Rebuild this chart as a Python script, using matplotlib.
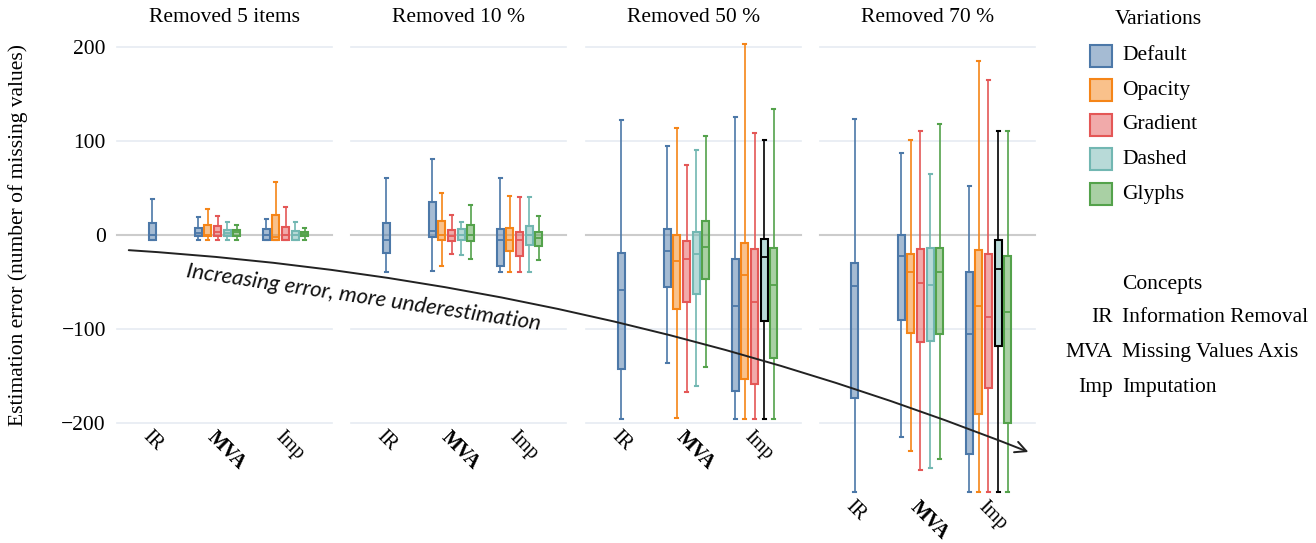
import matplotlib
matplotlib.use('Agg')
import matplotlib.pyplot as plt
from matplotlib.patches import Rectangle, FancyArrowPatch
from matplotlib.colors import to_rgba
import matplotlib.transforms as mtransforms

# categories
panels = ["Removed 5 items", "Removed 10 %", "Removed 50 %", "Removed 70 %"]
concepts = ["IR", "MVA", "Imp"]
concept_names = ["Information Removal", "Missing Values Axis", "Imputation"]
variations = ["Default", "Opacity", "Gradient", "Dashed", "Glyphs"]
colors = ["#4c78a8", "#f58518", "#e45756", "#72b7b2", "#54a24b"]

# box stats per variation: (whislo, q1, med, q3, whishi)
p1_ir = [(-5, -5, 0, 13, 38)]
p1_mva = [(-5, -1.5, 2.5, 7, 19), (-5, -1.5, 0, 10.6, 28), (-5, -1.5, 3, 9.6, 20),
          (-5, -1.5, 2, 5, 14), (-5, -1.5, 3, 5, 11)]
p1_imp = [(-5, -5, 0, 6, 17), (-5, -5, -2.5, 21, 56), (-5, -5, 0, 9, 30),
          (-5, -5, 0, 4, 14), (-5, -1.5, 1, 3, 7)]

p2_ir = [(-39, -19.5, -5, 13, 61)]
p2_mva = [(-38, -2.5, 4.6, 35.5, 81), (-33, -5, 0, 15, 45), (-20, -6, -1, 5, 21),
          (-21, -5, 0, 6, 14), (-26, -6, 0, 10.6, 32)]
p2_imp = [(-39, -33, -5, 6, 61), (-39, -16.7, -5, 7, 42), (-39, -22, -5, 3, 40),
          (-39, -10.6, 0, 9.6, 40), (-27, -11.7, -3.5, 3, 20)]

p3_ir = [(-196, -142.5, -58.5, -19.5, 122)]
p3_mva = [(-136, -55, -17, 6, 95), (-195, -79, -28, 0, 114), (-167, -71, -25, -6, 75),
          (-161, -63, -20.5, 3, 90), (-140, -47, -12.4, 15, 105)]
p3_imp = [(-196, -166, -75, -25, 125), (-196, -153, -43, -8, 203), (-196, -158.5, -71.6, -14.5, 109),
          (-196, -92, -23.4, -4.6, 101), (-196, -131, -53.5, -14, 134)]

p4_ir = [(-273.5, -173.5, -54, -30, 123.5)]
p4_mva = [(-215, -90, -22, 0, 87), (-230, -104, -39, -20, 101), (-250, -113.6, -51, -15, 111),
          (-248, -113, -53, -14, 65), (-238, -105.5, -39, -14, 118)]
p4_imp = [(-273.5, -233, -105.5, -39, 52), (-273.5, -190, -75, -16, 185), (-273.5, -163, -87, -20, 165),
          (-273.5, -118, -36, -5, 111), (-273.5, -200, -81.6, -22, 111)]

panel_data = [
    [p1_ir, p1_mva, p1_imp],
    [p2_ir, p2_mva, p2_imp],
    [p3_ir, p3_mva, p3_imp],
    [p4_ir, p4_mva, p4_imp],
]
# panels where the imputation "Dashed" box is drawn with a black outline
black_dashed = [False, False, True, True]
y_min = [-200, -200, -200, -274.5]

plt.rcParams['font.family'] = ['Liberation Serif', 'DejaVu Serif']
FS = 15.5

W, H = 1316, 543
fig = plt.figure(figsize=(W / 100, H / 100), dpi=100)


def px(x, y):
    # pixel coords (top-left origin) to figure fraction
    return x / W, 1 - y / H


lefts = [117, 351, 586, 820]
pw = 215
top_px = 47  # y = 200
scale = 0.94  # px per unit
group_x = [35, 100.5, 168.5]
step = 9.6

for i, title in enumerate(panels):
    bottom_px = top_px + (200 - y_min[i]) * scale
    l, b = px(lefts[i], bottom_px)
    ax = fig.add_axes([l, b, pw / W, (bottom_px - top_px) / H])
    ax.set_xlim(0, pw)
    ax.set_ylim(y_min[i], 200)
    for s in ax.spines.values():
        s.set_visible(False)
    for g in [-200, -100, 100, 200]:
        ax.axhline(g, color="#e6ebf2", lw=1.2, zorder=0)
    ax.axhline(0, color="#cccccc", lw=1.5, zorder=0)

    for c, boxes in enumerate(panel_data[i]):
        n = len(boxes)
        for v, st in enumerate(boxes):
            if n == 1:
                xpos = group_x[c]
            else:
                xpos = group_x[c] + (v - 2) * step
            col = colors[v]
            edge = "black" if (black_dashed[i] and c == 2 and v == 3) else col
            lo, q1, med, q3, hi = st
            stat = dict(whislo=lo, q1=q1, med=med, q3=q3, whishi=hi, fliers=[])
            ax.bxp([stat], positions=[xpos], widths=7, capwidths=3, patch_artist=True,
                   showfliers=False, manage_ticks=False,
                   boxprops=dict(facecolor=to_rgba(col, 0.5), edgecolor=edge, linewidth=1.5),
                   medianprops=dict(color=edge, linewidth=1.3),
                   whiskerprops=dict(color=edge, linewidth=1.2),
                   capprops=dict(color=edge, linewidth=1.5))
    for art in ax.get_children():
        try:
            art.set_clip_on(False)
        except Exception:
            pass

    ax.set_xticks(group_x)
    ax.set_xticklabels(concepts)
    ax.tick_params(axis='x', length=0, pad=8)
    shift = mtransforms.ScaledTranslation(-7 / 100, 0, fig.dpi_scale_trans)
    for lab in ax.get_xticklabels():
        lab.set_rotation(-45)
        lab.set_ha('left')
        lab.set_va('center')
        lab.set_rotation_mode('anchor')
        lab.set_fontsize(14.5)
        lab.set_transform(lab.get_transform() + shift)
        if lab.get_text() == "MVA":
            lab.set_fontweight('bold')

    if i == 0:
        ax.set_yticks([-200, -100, 0, 100, 200])
        ax.set_yticklabels(["\u2212200", "\u2212100", "0", "100", "200"])
        ax.tick_params(axis='y', length=0, pad=8, labelsize=FS)
        ax.set_ylabel("Estimation error (number of missing values)", fontsize=FS, labelpad=24)
    else:
        ax.set_yticks([])
    fig.text(*px(lefts[i] + pw / 2, 18), title, fontsize=FS, ha='center', va='center')

# legend: variations
fig.text(*px(1115, 20), "Variations", fontsize=FS, ha='left', va='center')
for v, name in enumerate(variations):
    cy = 55.6 + v * 34.6
    x0, y0 = px(1090, cy + 11)
    fig.add_artist(Rectangle((x0, y0), 22 / W, 22 / H, transform=fig.transFigure,
                             facecolor=to_rgba(colors[v], 0.5), edgecolor=colors[v], lw=1.5))
    fig.text(*px(1122, cy), name, fontsize=FS, ha='left', va='center')

# legend: concepts
fig.text(*px(1122, 285), "Concepts", fontsize=FS, ha='left', va='center')
for k, (ab, nm) in enumerate(zip(concepts, concept_names)):
    cy = 318 + k * 34.7
    fig.text(*px(1113, cy), ab, fontsize=FS, ha='right', va='center')
    fig.text(*px(1122, cy), nm, fontsize=FS, ha='left', va='center')

# annotation arrow
arrow = FancyArrowPatch(px(126, 250), px(1031, 453), transform=fig.transFigure,
                        connectionstyle="arc3,rad=-0.08", arrowstyle="->,head_length=8,head_width=4",
                        color="#222222", lw=1.4)
fig.add_artist(arrow)
fig.text(*px(364, 298), "Increasing error, more underestimation", fontsize=16,
         family=['Lato', 'DejaVu Sans'], style='italic', rotation=-8.5,
         rotation_mode='anchor', ha='center', va='center', color="#111111")

fig.savefig("out.png", dpi=100)
